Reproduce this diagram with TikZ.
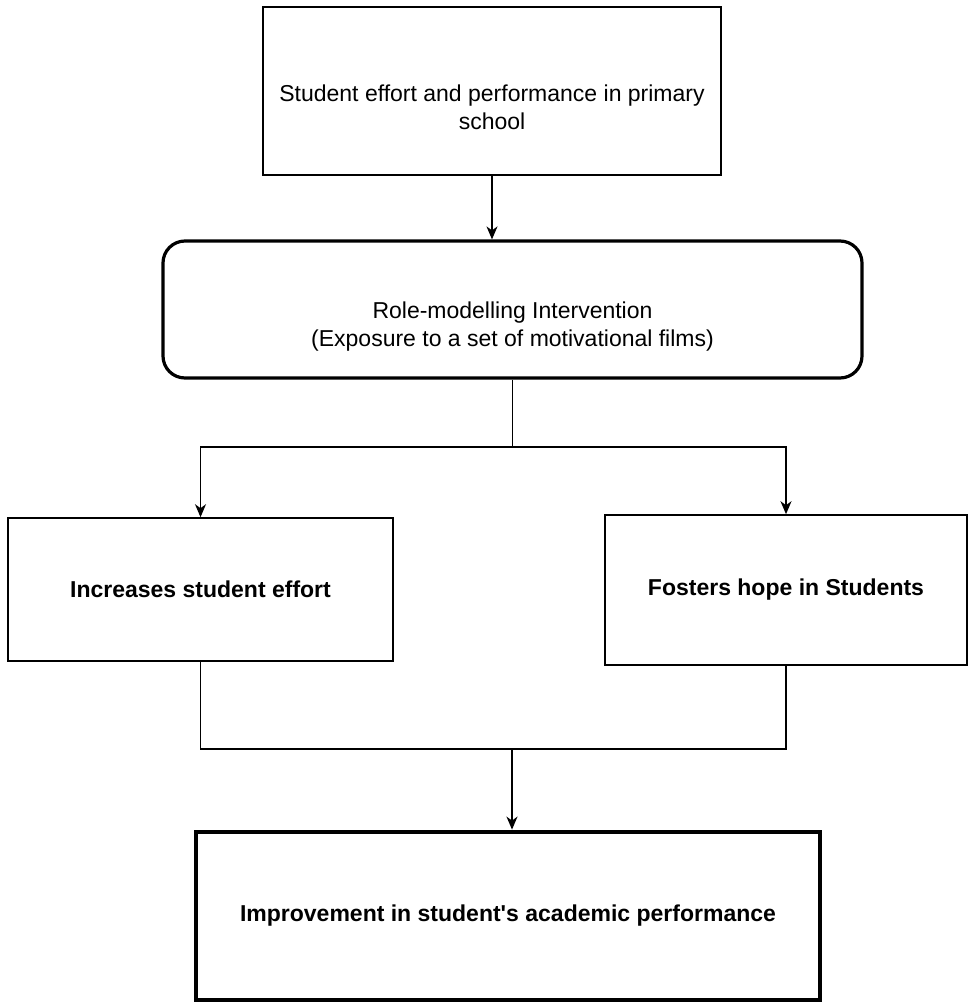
\documentclass[tikz,border=0pt]{standalone}
\usepackage{fontspec}
\setmainfont{Liberation Sans}
\usetikzlibrary{arrows.meta}
\newcommand{\lowtext}{\rule{0pt}{50pt}}% pushes a text block down in its box
\tikzset{
	box/.style={draw,line width=1.6pt,align=center,font=\fontsize{23}{28}\selectfont},
	keybox/.style={box,font=\fontsize{23}{28}\selectfont\bfseries},
	conn/.style={line width=1.5pt},
	arr/.style={conn,-{Stealth[length=13pt,width=11pt,inset=4pt]}}
}
\begin{document}
\begin{tikzpicture}[x=1pt,y=-1pt]
	\useasboundingbox (0,0) rectangle (969,1004);
	
	%BOXES
	\node[box,minimum width=458,minimum height=168] (start) at (492,91)
		{\lowtext Student effort and performance in primary\\school};
	\node[box,line width=3.2pt,rounded corners=22pt,minimum width=699,minimum height=137] (role) at (512.5,309.5)
		{\lowtext Role-modelling Intervention\\(Exposure to a set of motivational films)};
	\node[keybox,minimum width=385,minimum height=143] (effort) at (200.5,589.5)
		{Increases student effort};
	\node[keybox,minimum width=362,minimum height=150] (hope) at (786,590)
		{Fosters hope in Students};
	\node[keybox,line width=4.8pt,minimum width=624,minimum height=168] (result) at (508,916)
		{Improvement in student\textquotesingle s academic performance};
	
	%SPLIT AND JOIN POINTS
	\coordinate (split) at (512.5,447);
	\coordinate (join) at (512,749);
	
	%ARROWS
	\draw[arr] (start.south) -- (start.south |- role.north);
	\draw[conn] (role.south) -- (split);
	\draw[arr] (split) -| (effort.north);
	\draw[arr] (split) -| (hope.north);
	%
	\draw[conn] (effort.south) |- (join);
	\draw[conn] (hope.south) |- (join);
	\draw[arr] (join) -- (join |- result.north);
\end{tikzpicture}
\end{document}
